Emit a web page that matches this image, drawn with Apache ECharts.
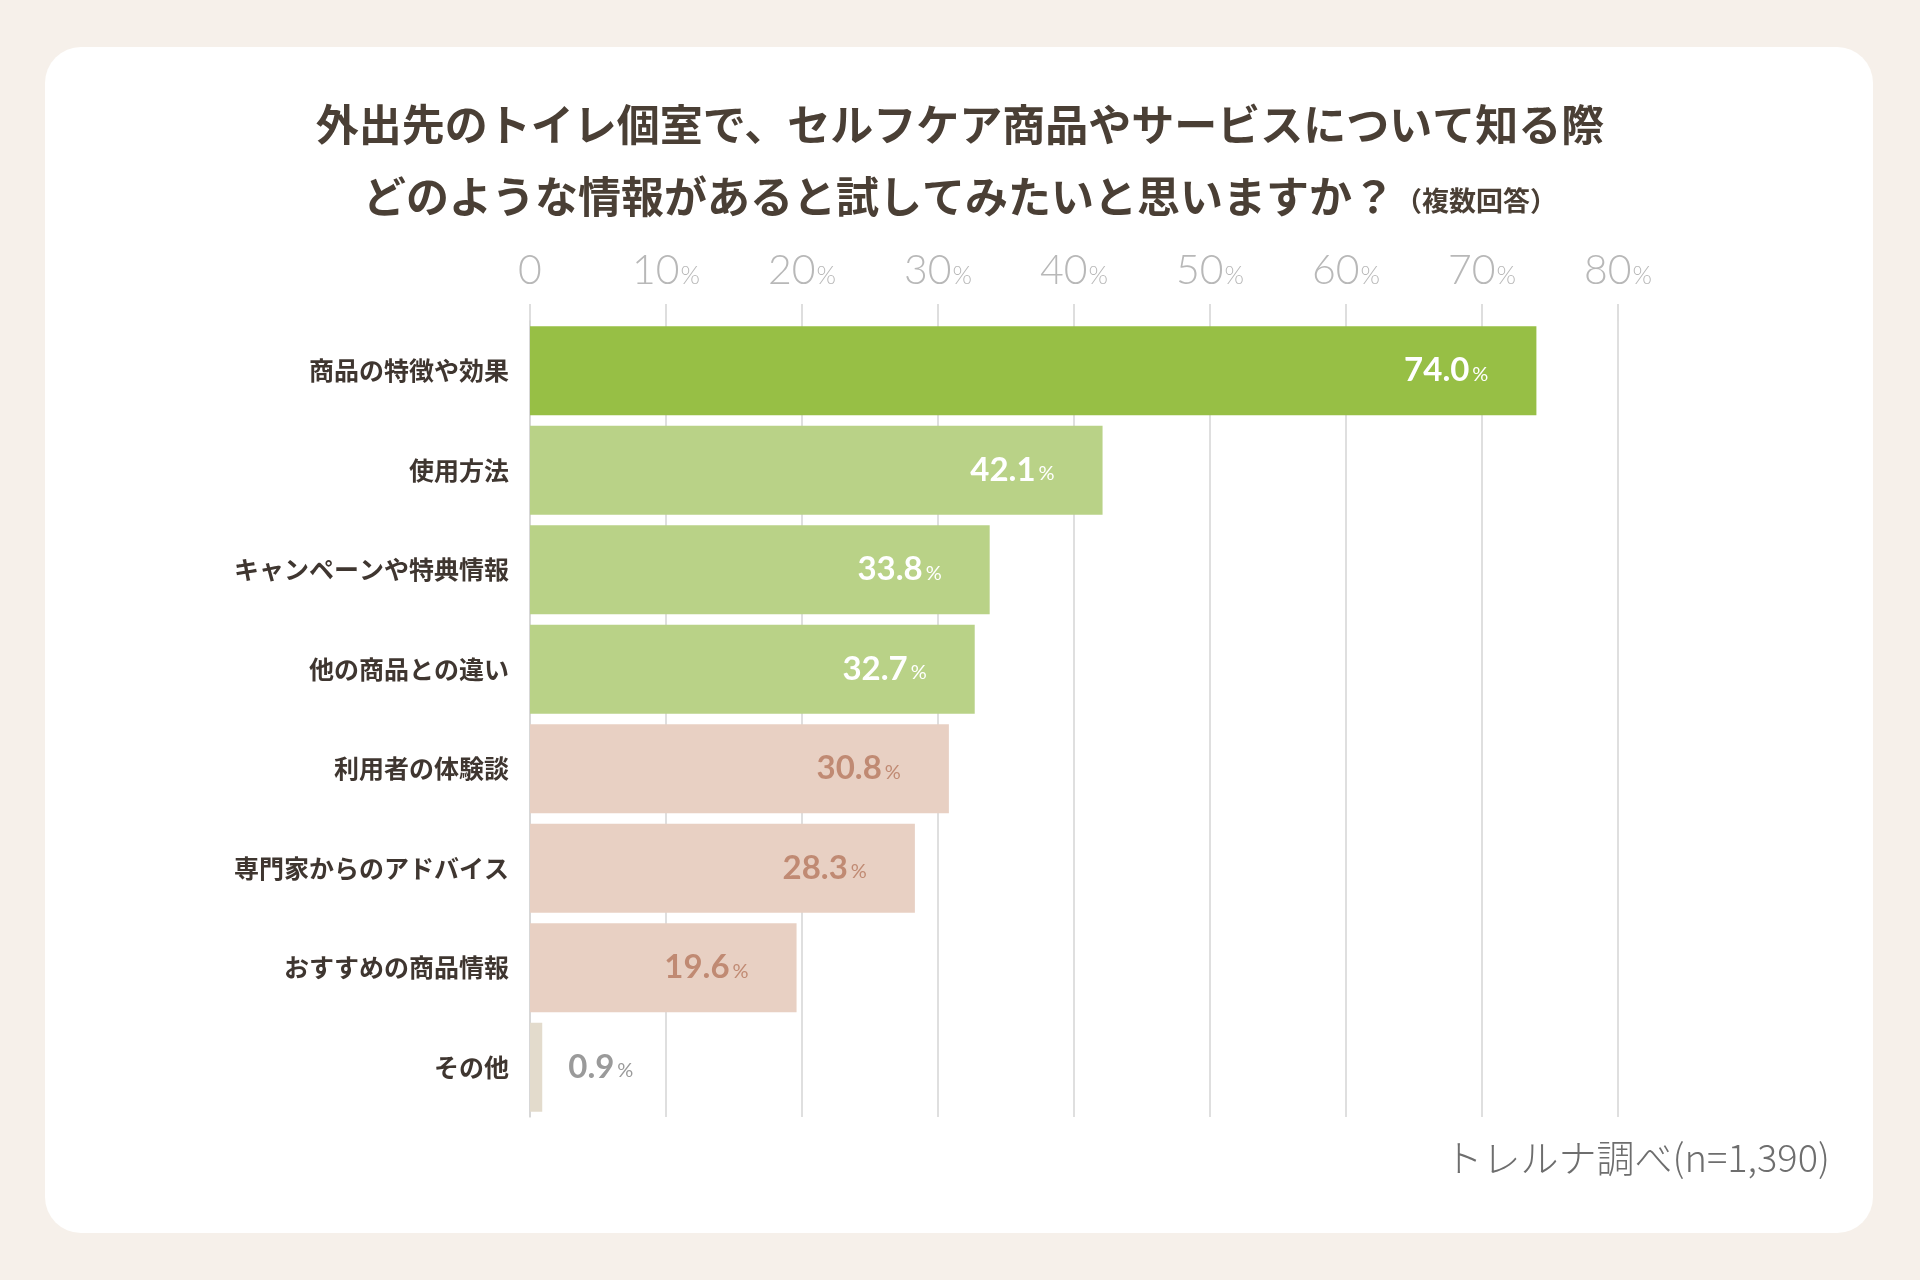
<!DOCTYPE html>
<html>
<head>
<meta charset="utf-8">
<script src="https://cdn.jsdelivr.net/npm/echarts@6/dist/echarts.min.js"></script>
<style>
html,body{margin:0;padding:0;background:#f6f0ea;}
#chart{width:1920px;height:1280px;}
</style>
</head>
<body>
<div id="chart"></div>
<script>
var categories = ['商品の特徴や効果','使用方法','キャンペーンや特典情報','他の商品との違い','利用者の体験談','専門家からのアドバイス','おすすめの商品情報','その他'];
var values = [74.0, 42.1, 33.8, 32.7, 30.8, 28.3, 19.6, 0.9];
var barColors = ['#97bf45','#b9d287','#b9d287','#b9d287','#e8d0c3','#e8d0c3','#e8d0c3','#e3dbcc'];
var labelColors = ['#ffffff','#ffffff','#ffffff','#ffffff','#c08a73','#c08a73','#c08a73','#9a9a9a'];
var ticks = [0,10,20,30,40,50,60,70,80];

var numFont = 'Lato, "Noto Sans", sans-serif';
var jpFont = '"Noto Sans CJK JP", sans-serif';

var data = values.map(function(v, i){
  var outside = v < 5;
  return {
    value: v,
    itemStyle: {color: barColors[i]},
    label: {
      position: outside ? 'right' : 'insideRight',
      distance: outside ? 26 : 48,
      rich: {
        n: {fontFamily: numFont, fontWeight: 'bold', fontSize: 33, color: labelColors[i]},
        p: {fontFamily: numFont, fontSize: 20, color: labelColors[i], padding: [7,0,0,3]}
      }
    }
  };
});

var chart = echarts.init(document.getElementById('chart'));
chart.setOption({
  backgroundColor: '#f6f0ea',
  graphic: [{
    type: 'rect', z: -10, silent: true,
    shape: {x: 45, y: 47, width: 1828, height: 1186, r: 36},
    style: {fill: '#ffffff'}
  }, {
    type: 'text', right: 90, top: 1139,
    style: {text: 'トレルナ調べ(n=1,390)', font: '300 38px ' + jpFont, fill: '#6e6e6e'}
  }],
  title: {
    left: 'center', top: 84,
    text: '外出先のトイレ個室で、セルフケア商品やサービスについて知る際\n{a|どのような情報があると試してみたいと思いますか？}{b|（複数回答）}',
    textStyle: {
      fontFamily: jpFont, fontWeight: 'bold', fontSize: 43, color: '#4a3f35', lineHeight: 72,
      rich: {
        a: {fontFamily: jpFont, fontWeight: 'bold', fontSize: 43, color: '#4a3f35', lineHeight: 72},
        b: {fontFamily: jpFont, fontWeight: 'bold', fontSize: 27, color: '#4a3f35', lineHeight: 72, padding: [8,0,0,0]}
      }
    }
  },
  grid: {left: 530, right: 302, top: 321, bottom: 163},
  xAxis: {
    type: 'value', position: 'top', min: 0, max: 80, interval: 10,
    axisLine: {show: false},
    axisTick: {show: true, inside: false, length: 17, lineStyle: {color: '#d4d4d4', width: 1.5}},
    splitLine: {show: true, lineStyle: {color: '#d4d4d4', width: 1.5}},
    axisLabel: {
      margin: 30,
      formatter: function(v){ return ticks.indexOf(v) === 0 ? '{n|0}' : '{n|' + v + '}{p|%}'; },
      rich: {
        n: {fontFamily: numFont, fontWeight: 300, fontSize: 41, color: '#b8b8b8'},
        p: {fontFamily: numFont, fontWeight: 300, fontSize: 25, color: '#b8b8b8', padding: [10,0,0,1]}
      }
    }
  },
  yAxis: {
    type: 'category', data: categories, inverse: true,
    axisLine: {show: true, lineStyle: {color: '#d4d4d4', width: 1.5}},
    axisTick: {show: false},
    axisLabel: {margin: 21, fontFamily: jpFont, fontWeight: 'bold', fontSize: 25, color: '#3f3630'}
  },
  series: [{
    type: 'bar', data: data, barCategoryGap: '10.5%',
    label: {
      show: true,
      formatter: function(p){ return '{n|' + p.value.toFixed(1) + '}{p|%}'; }
    }
  }]
});
</script>
</body>
</html>
